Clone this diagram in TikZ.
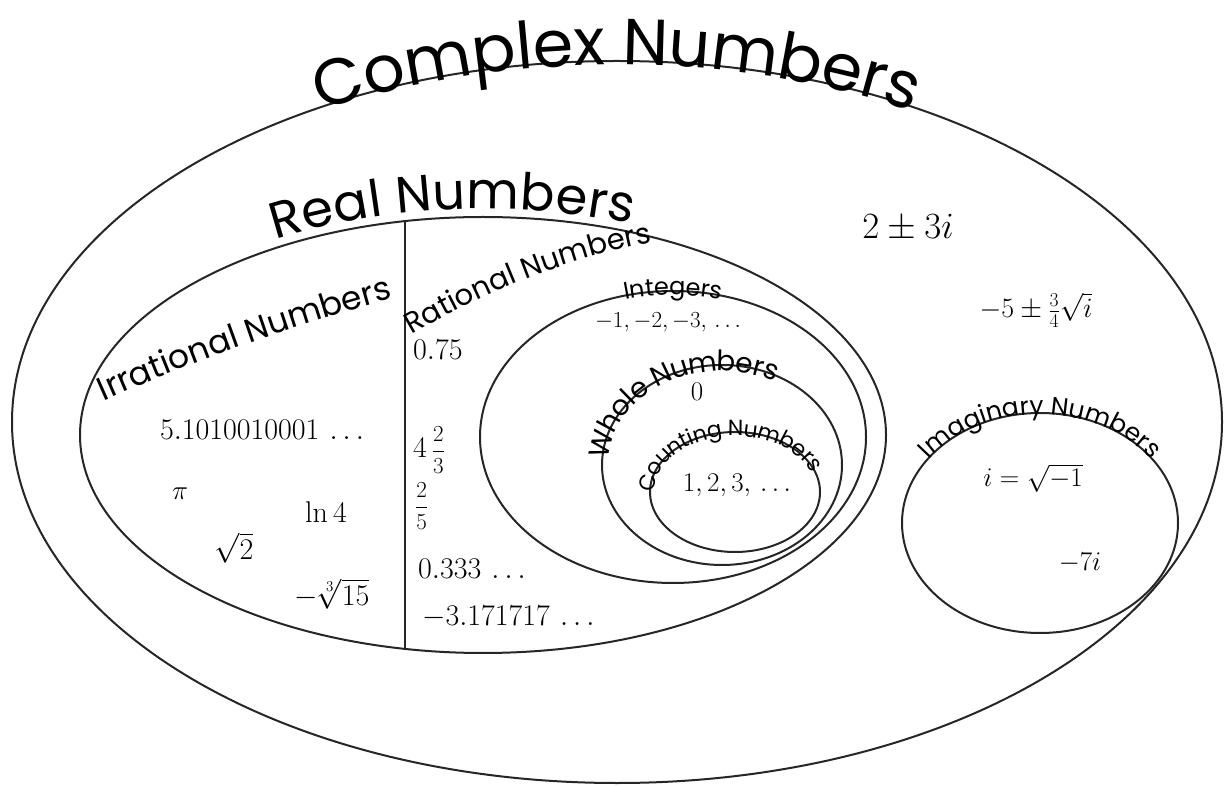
\RequirePackage{fix-cm}
\documentclass[tikz,border=0pt]{standalone}
\usepackage{fontspec}
\newfontfamily\comic{Poppins}
\usetikzlibrary{shapes.geometric,decorations.text}
\newcommand{\bigfr}[2]{{\fontsize{23}{27}\selectfont$\displaystyle\frac{#1}{#2}$}}
\begin{document}
\begin{tikzpicture}[x=1pt,y=1pt,
  setE/.style={draw=black!85, line width=2pt, ellipse, inner sep=0pt},
  lbl/.style={inner sep=0pt, font=\fontsize{30}{36}\selectfont},
  midlbl/.style={inner sep=0pt, font=\fontsize{27}{32}\selectfont},
  curved/.style={decorate, decoration={text along path, text align=center, #1}},
]
\useasboundingbox (0,0) rectangle (1231,785);
% sets
\node[setE, minimum width=1210pt, minimum height=722pt] (cplx) at (617,363) {};
\node[setE, minimum width=806pt, minimum height=436pt] (real) at (483,350) {};
\node[setE, minimum width=386pt, minimum height=292pt] (integ) at (673,348) {};
\node[setE, minimum width=240pt, minimum height=200pt] (whole) at (722,320) {};
\node[setE, minimum width=170pt, minimum height=120pt] (count) at (735,293) {};
\node[setE, minimum width=276pt, minimum height=220pt] (imag) at (1040,262) {};
% divider between irrational and rational
\coordinate (vtop) at (405,563.9);
\coordinate (vbot) at (405,136.1);
\draw[black!85, line width=2pt] (vtop) -- (vbot);
% curved titles
\path[curved={text={|\comic\fontsize{65}{78}\selectfont|Complex Numbers}, raise=-4pt}]
  (cplx.center) ++(148:605pt and 361pt) arc[start angle=148, end angle=32, x radius=605pt, y radius=361pt];
\path[curved={text={|\comic\fontsize{51}{61}\selectfont|Real Numbers}, raise=8pt}]
  (real.center) ++(152:403pt and 218pt) arc[start angle=152, end angle=40, x radius=403pt, y radius=218pt];
\path[curved={text={|\comic\fontsize{33}{40}\selectfont|Irrational Numbers}}]
  (95,380) .. controls (197,426) and (300,462) .. (402,489);
\path[curved={text={|\comic\fontsize{29}{35}\selectfont|Rational Numbers}}]
  (410,449) .. controls (490,496) and (572,528) .. (654,543);
\path[curved={text={|\comic\fontsize{24}{29}\selectfont|Integers}, raise=-4pt}]
  (integ.center) ++(130:193pt and 146pt) arc[start angle=130, end angle=50, x radius=193pt, y radius=146pt];
\path[curved={text={|\comic\fontsize{28}{33}\selectfont|Whole Numbers}, raise=-6pt}]
  (whole.center) ++(184:120pt and 100pt) arc[start angle=184, end angle=56, x radius=120pt, y radius=100pt];
\path[curved={text={|\comic\fontsize{22}{26}\selectfont|Counting Numbers}, raise=-4pt}]
  (count.center) ++(182:85pt and 60pt) arc[start angle=182, end angle=18, x radius=85pt, y radius=60pt];
\path[curved={text={|\comic\fontsize{25}{30}\selectfont|Imaginary Numbers}, raise=-1pt}]
  (imag.center) ++(158:138pt and 110pt) arc[start angle=158, end angle=22, x radius=138pt, y radius=110pt];
% complex
\node[lbl, font=\fontsize{37}{44}\selectfont] (c23) at (908,557) {$2\pm3i$};
\node[lbl, font=\fontsize{28}{34}\selectfont] (c5) at (1036,475) {$-5\pm\frac{3}{4}\sqrt{i}$};
% integers, whole, counting
\node[lbl, font=\fontsize{23}{28}\selectfont] (negs) at (668,463) {$-1,-2,-3,\,\ldots$};
\node[midlbl] (zero) at (697,393) {$0$};
\node[midlbl] (pos) at (737,300) {$1,2,3,\,\ldots$};
% rational
\node[lbl, anchor=west] (r075) at (413,435) {$0.75$};
\node[lbl, anchor=west] (r423) at (413,335) {$4$\,\bigfr{2}{3}};
\node[lbl, anchor=west] (r25) at (415,279) {\bigfr{2}{5}};
\node[lbl, anchor=west] (r0333) at (418,216) {$0.333\,\ldots$};
\node[lbl, anchor=west] (r317) at (422,168) {$-3.171717\,\ldots$};
% irrational
\node[lbl] (i510) at (262,355) {$5.1010010001\,\ldots$};
\node[midlbl] (ipi) at (180,291) {$\pi$};
\node[lbl] (iln) at (326,273) {$\ln 4$};
\node[lbl] (isq) at (234,237) {$\sqrt{2}$};
\node[lbl] (icb) at (332,191) {$-\sqrt[3]{15}$};
% imaginary
\node[midlbl] (idef) at (1033,307) {$i=\sqrt{-1}$};
\node[midlbl] (m7) at (1080,222) {$-7i$};
\end{tikzpicture}
\end{document}
